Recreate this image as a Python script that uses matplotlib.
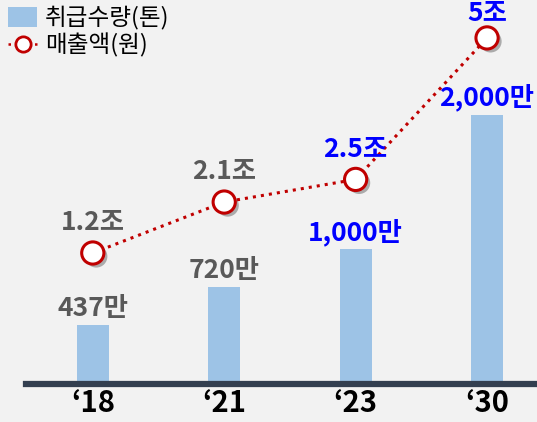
import matplotlib
matplotlib.use('Agg')
import matplotlib.pyplot as plt
import matplotlib.patheffects as pe
from matplotlib.lines import Line2D
from matplotlib.patches import Patch

plt.rcParams['font.family'] = ['Noto Sans CJK KR', 'DejaVu Sans']

years = ['\u201818', '\u201821', '\u201823', '\u201830']
volume = [437, 720, 1000, 2000]          # 취급수량 (만 톤)
volume_labels = ['437만', '720만', '1,000만', '2,000만']
sales = [1.2, 2.1, 2.5, 5.0]             # 매출액 (조 원)
sales_labels = ['1.2조', '2.1조', '2.5조', '5조']
label_colors = ['#595959', '#595959', '#0000FF', '#0000FF']

bg = '#F2F2F2'
bar_color = '#9DC3E6'
line_color = '#C00000'

fig = plt.figure(figsize=(5.37, 4.22), dpi=100, facecolor=bg)
ax = fig.add_axes([0.048, 0.09, 0.952, 0.91])
ax.set_facecolor(bg)
x = list(range(len(years)))

ax.bar(x, volume, width=0.245, color=bar_color, zorder=2)
ax.set_xlim(-0.51, 3.38)
ax.set_ylim(0, 2850)
for i, v in enumerate(volume):
    ax.annotate(volume_labels[i], (i, v), xytext=(0, 2), textcoords='offset points',
                ha='center', va='bottom', fontsize=19, fontweight='heavy',
                color=label_colors[i])

for s in ['top', 'right', 'left']:
    ax.spines[s].set_visible(False)
ax.spines['bottom'].set_color('#333F50')
ax.spines['bottom'].set_linewidth(4.5)
ax.spines['bottom'].set_zorder(5)
ax.set_yticks([])
ax.set_xticks(x)
ax.set_xticklabels(years, fontsize=21, fontweight='heavy', color='black')
ax.tick_params(axis='x', length=0, pad=3)

ax2 = ax.twinx()
ax2.set_ylim(-1.115, 5.67)
ax2.set_yticks([])
for s in ax2.spines.values():
    s.set_visible(False)
ax2.plot(x, sales, color=line_color, linestyle=':', linewidth=2.2, zorder=3)
ax2.plot(x, sales, linestyle='none', marker='o', markersize=16,
         markerfacecolor='white', markeredgecolor=line_color, markeredgewidth=2.2,
         zorder=4,
         path_effects=[pe.SimplePatchShadow(offset=(2.5, -2.5), shadow_rgbFace='#555555', alpha=0.45),
                       pe.Normal()])
for i, v in enumerate(sales):
    dy = 12 if i < 3 else 8
    ax2.annotate(sales_labels[i], (i, v), xytext=(0, dy), textcoords='offset points',
                 ha='center', va='bottom', fontsize=19, fontweight='heavy',
                 color=label_colors[i], annotation_clip=False)

handles = [Patch(facecolor=bar_color, edgecolor='none'),
           Line2D([], [], color=line_color, linestyle=':', linewidth=1.8,
                  marker='o', markersize=11, markerfacecolor='white',
                  markeredgecolor=line_color, markeredgewidth=2)]
fig.legend(handles, ['취급수량(톤)', '매출액(원)'], loc='upper left',
           bbox_to_anchor=(-0.015, 1.025), frameon=False, fontsize=17,
           handlelength=1.2, handleheight=0.9, handletextpad=0.35,
           labelspacing=0.15, borderaxespad=0.3)

fig.savefig('out.png', dpi=100, facecolor=bg)
